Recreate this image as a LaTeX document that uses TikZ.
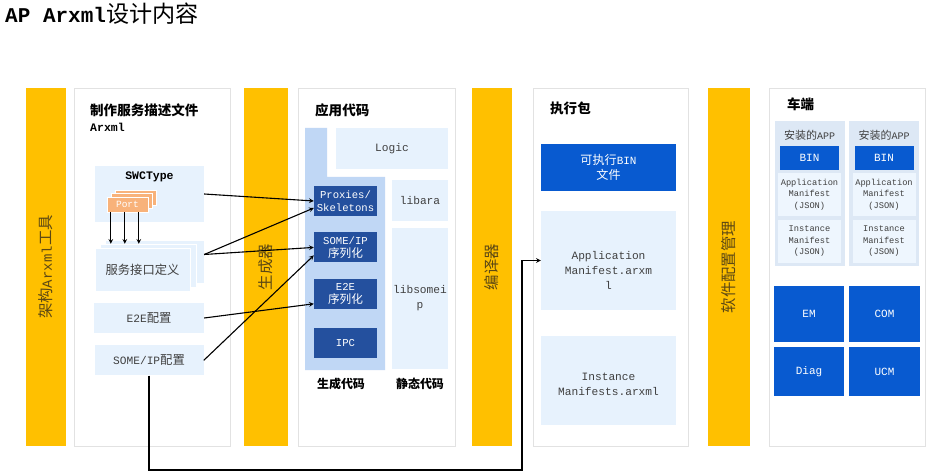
\documentclass[tikz,border=0pt]{standalone}
\usepackage{fontspec}
\setmainfont{Liberation Mono}
\newfontfamily\cjk[Scale=1.1]{Noto Sans CJK SC}
\newcommand{\zhtext}[1]{{\cjk #1}}
\usepackage{tikz}
\usetikzlibrary{shapes.geometric, arrows, calc, positioning}
\definecolor{barYellow}{RGB}{255,192,0}
\definecolor{barText}{RGB}{92,72,20}
\definecolor{panelGray}{RGB}{226,226,226}
\definecolor{lightBlue}{RGB}{231,242,253}
\definecolor{midBlue}{RGB}{192,215,245}
\definecolor{darkBlue}{RGB}{36,80,158}
\definecolor{brightBlue}{RGB}{8,90,208}
\definecolor{appGray}{RGB}{221,232,245}
\definecolor{portOrange}{RGB}{248,178,122}
\definecolor{textGray}{RGB}{64,64,64}
\tikzstyle{bar} = [rectangle, fill=barYellow, minimum width=40pt, minimum height=358pt, inner sep=0pt]
\tikzstyle{bartext} = [rotate=90, text=barText, font=\fontsize{14}{16}\selectfont]
\tikzstyle{panel} = [rectangle, draw=panelGray, fill=white, minimum width=156pt, minimum height=358pt, inner sep=0pt]
\tikzstyle{heading} = [inner sep=0pt, text=black, font=\fontsize{12.3}{14}\selectfont\bfseries]
\tikzstyle{lightbox} = [rectangle, fill=lightBlue, inner sep=0pt, text=textGray, align=center, font=\fontsize{11.2}{15}\selectfont]
\tikzstyle{codebox} = [rectangle, fill=darkBlue, minimum width=63pt, minimum height=30pt, inner sep=0pt, text=white, align=center, font=\fontsize{10.6}{13}\selectfont]
\tikzstyle{binbox} = [rectangle, fill=brightBlue, inner sep=0pt, text=white, align=center, font=\fontsize{11}{15}\selectfont]
\tikzstyle{portbox} = [rectangle, draw=white, fill=portOrange, minimum width=41pt, minimum height=15pt, inner sep=0pt]
\tikzstyle{arrow} = [line width=1.1pt,->,>=stealth]

\begin{document}
\begin{tikzpicture}[x=1pt, y=-1pt, node distance=10pt, auto]
		\useasboundingbox (0,0) rectangle (935,476);
		\node (Title) [anchor=west, inner sep=0pt, font=\fontsize{21}{24}\selectfont\bfseries] at (5,14) {AP Arxml{\cjk\mdseries 设计内容}};
		% yellow bars
		\node (BarTool) [bar] at (46,267) {};
		\node (BarGen) [bar, minimum width=44pt] at (266,267) {};
		\node (BarComp) [bar] at (492,267) {};
		\node (BarConf) [bar, minimum width=42pt] at (729,267) {};
		\node (ToolText) [bartext] at (BarTool) {\zhtext{架构}Arxml\zhtext{工具}};
		\node (GenText) [bartext] at (BarGen) {\zhtext{生成器}};
		\node (CompText) [bartext] at (BarComp) {\zhtext{编译器}};
		\node (ConfText) [bartext] at (BarConf) {\zhtext{软件配置管理}};
		% panels
		\node (PanelDesc) [panel] at (152,267) {};
		\node (PanelCode) [panel, minimum width=157pt] at (376.5,267) {};
		\node (PanelExec) [panel, minimum width=155pt] at (610.5,267) {};
		\node (PanelCar) [panel] at (847,267) {};
		% service description
		\node (DescTitle) [heading, anchor=west] at (90,110) {\zhtext{制作服务描述文件}};
		\node (DescArxml) [heading, font=\fontsize{11.5}{13}\selectfont\bfseries, below = 6pt of DescTitle.south west, anchor=north west] {Arxml};
		\node (SWC) [lightbox, minimum width=109pt, minimum height=56pt] at (149.5,194) {};
		\node (SWCLabel) [font=\fontsize{11.5}{13}\selectfont\bfseries, text=black] at (149.5,177) {SWCType};
		\foreach \i in {2,1}
			\node (Port\i) [portbox] at ({127.5+4*\i},{204.5-3.5*\i}) {};
		\node (Port) [portbox, font=\fontsize{9.5}{10}\selectfont, text=white] at (127.5,204.5) {Port};
		\node (SIFback) [lightbox, draw=white, minimum width=99pt, minimum height=43pt] at (154.5,261.5) {};
		\node (SIFmid) [lightbox, draw=white, minimum width=96pt, minimum height=43pt] at (148,265.5) {};
		\node (SIF) [lightbox, draw=white, minimum width=95pt, minimum height=43pt] at (142.5,269.5) {\zhtext{服务接口定义}};
		\node (E2Ecfg) [lightbox, minimum width=110pt, minimum height=30pt] at (149,318) {E2E\zhtext{配置}};
		\node (SomeipCfg) [lightbox, minimum width=109pt, minimum height=30pt, below = 12pt of E2Ecfg] {SOME/IP\zhtext{配置}};
		% application code
		\node (CodeTitle) [heading, anchor=west] at (315,110) {\zhtext{应用代码}};
		\fill [midBlue] (305,128) -- (327,128) -- (327,177) -- (385,177) -- (385,370) -- (305,370) -- cycle;
		\node (Logic) [lightbox, minimum width=112pt, minimum height=41pt] at (392,148.5) {Logic};
		\node (Libara) [lightbox, minimum width=56pt, minimum height=41pt] at (420,200.5) {libara};
		\node (Libsomeip) [lightbox, minimum width=56pt, minimum height=141pt] at (420,298.5) {libsomei\\p};
		\node (Proxies) [codebox] at (345.5,201) {Proxies/\\Skeletons};
		\node (SomeipSer) [codebox, below = 16pt of Proxies] {SOME/IP\\\zhtext{序列化}};
		\node (E2ESer) [codebox, below = 16pt of SomeipSer] {E2E\\\zhtext{序列化}};
		\node (Ipc) [codebox, below = 19pt of E2ESer] {IPC};
		\node (GenLabel) [heading, font=\fontsize{10.9}{13}\selectfont\bfseries] at (341,384) {\zhtext{生成代码}};
		\node (StaticLabel) [heading, font=\fontsize{10.9}{13}\selectfont\bfseries] at (420,384) {\zhtext{静态代码}};
		% executable package
		\node (ExecTitle) [heading, anchor=west] at (550,108) {\zhtext{执行包}};
		\node (BinFile) [binbox, minimum width=135pt, minimum height=47pt] at (608.5,167.5) {\zhtext{可执行}BIN\\\zhtext{文件}};
		\node (AppMan) [lightbox, minimum width=135pt, minimum height=99pt] at (608.5,260.5) {};
		\node (AppManText) [lightbox, fill=none] at ($(AppMan)+(0,10)$) {Application\\Manifest.arxm\\l};
		\node (InstMan) [lightbox, minimum width=135pt, minimum height=89pt] at (608.5,380.5) {};
		\node (InstManText) [lightbox, fill=none] at ($(InstMan)+(0,4)$) {Instance\\Manifests.arxml};
		% vehicle side
		\node (CarTitle) [heading, anchor=west] at (787,104) {\zhtext{车端}};
		\foreach \cx/\nm in {809.5/A, 884/B} {
			\node (AppCol\nm) [rectangle, fill=appGray, minimum width=70pt, minimum height=145pt] at (\cx,193.5) {};
			\node (AppLabel\nm) [text=textGray, font=\fontsize{10}{12}\selectfont] at (\cx,135) {\zhtext{安装的}APP};
			\node (AppBin\nm) [binbox, minimum width=59pt, minimum height=24pt] at (\cx,158) {BIN};
			\node (AppJson\nm) [lightbox, fill=lightBlue!70, minimum width=63pt, minimum height=42pt, font=\fontsize{8.7}{11.5}\selectfont] at (\cx,194.5) {Application\\Manifest\\(JSON)};
			\node (InstJson\nm) [lightbox, fill=lightBlue!70, minimum width=63pt, minimum height=43pt, font=\fontsize{8.7}{11.5}\selectfont] at (\cx,241.5) {Instance\\Manifest\\(JSON)};
		}
		\node (EM) [binbox, minimum width=70pt, minimum height=56pt] at (809,314) {EM};
		\node (COM) [binbox, minimum width=71pt, minimum height=56pt] at (884.5,314) {COM};
		\node (Diag) [binbox, minimum width=70pt, minimum height=49pt] at (809,371.5) {Diag};
		\node (UCM) [binbox, minimum width=71pt, minimum height=49pt] at (884.5,371.5) {UCM};
		% connectors
		\foreach \dx in {4,18,32}
			\draw [arrow] ([xshift=\dx pt]Port.south west) -- ([xshift=\dx pt]Port.south west |- SIFmid.north);
		\draw [arrow] (SWC.east) -- (Proxies.west);
		\draw [arrow] ([yshift=7pt]SIFback.east) -- ([yshift=-7pt]Proxies.west);
		\draw [arrow] ([yshift=7pt]SIFback.east) -- (SomeipSer.west);
		\draw [arrow] (E2Ecfg.east) -- ([yshift=-10pt]E2ESer.west);
		\draw [arrow] (SomeipCfg.east) -- ([yshift=-8pt]SomeipSer.west);
		\coordinate (Turn) at (522,470);
		\draw [arrow] (SomeipCfg.south) |- (Turn) |- (AppMan.west);
		\end{tikzpicture}
\end{document}
